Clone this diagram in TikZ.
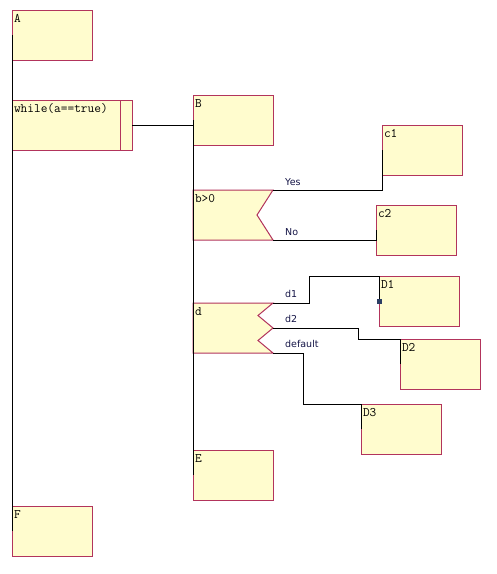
\documentclass[tikz,border=0pt]{standalone}
\usepackage{fontspec}
\newfontfamily\branchfont{DejaVu Sans}
\usetikzlibrary{positioning, calc}
\definecolor{boxfill}{RGB}{255,252,206}
\definecolor{boxline}{RGB}{178,52,92}
\definecolor{handleblue}{RGB}{44,62,100}
\definecolor{branchtext}{RGB}{20,20,70}

\begin{document}
\begin{tikzpicture}[x=1pt, y=-1pt]
        \tikzstyle{box} = [rectangle, draw=boxline, fill=boxfill, line width=1pt, minimum width=80pt, minimum height=50pt, text width=76pt, text height=10pt, text depth=36pt, inner sep=2pt, outer sep=0pt, align=left, anchor=north west, font=\ttfamily\fontsize{13}{14}\selectfont]
        \tikzstyle{cond} = [box, draw=none, fill=none]
        \tikzstyle{notchbox} = [draw=boxline, fill=boxfill, line width=1pt]
        \tikzstyle{link} = [draw=black, line width=1pt]
        \tikzstyle{branch} = [anchor=base west, inner sep=0pt, text=branchtext, font=\branchfont\fontsize{9.5}{10}\selectfont]

        \useasboundingbox (0,0) rectangle (497,574);

        \node[box] (A) at (12,10){A};
        \node[box, minimum width=120pt, text width=116pt] (loop) at (12,100){while(a==true)};
        \draw[boxline, line width=1pt] ($(loop.north east)+(-12,0)$) -- ($(loop.south east)+(-12,0)$);
        \node[box] (F) at (12,506){F};

        \node[box] (B) at (193,95){B};

        \filldraw[notchbox] (193,190) -- ++(80,0) -- ++(-16,25) -- ++(16,25) -- ++(-80,0) -- cycle;
        \node[cond] (b0) at (193,190){b>0};
        \node[box] (c1) at (382,125){c1};
        \node[box] (c2) at (376,205){c2};

        \filldraw[notchbox] (193,303) -- ++(80,0) -- ++(-15,12.5) -- ++(15,12.5) -- ++(-15,12.5) -- ++(15,12.5) -- ++(-80,0) -- cycle;
        \node[cond] (d) at (193,303){d};
        \node[box] (D1) at (379,276){D1};
        \node[box] (D2) at (400,339){D2};
        \node[box] (D3) at (361,404){D3};

        \node[box] (E) at (193,450){E};

        \draw[link] (A.west) -- (F.west);
        \draw[link] (loop.east) -- (loop.east -| B.west);
        \draw[link] (B.west) -- (E.west);

        \draw[link] (b0.north east) -| (c1.west);
        \draw[link] (b0.south east) -| (c2.west);
        \node[branch] (yes) at ($(b0.north east)+(12,-5)$){Yes};
        \node[branch] (no) at ($(b0.south east)+(12,-5)$){No};

        \draw[link] (d.north east) -- ++(36,0) |- (D1.north west) -- (D1.west);
        \draw[link] (d.east) -- ++(85,0) |- (D2.north west) -- (D2.west);
        \draw[link] (d.south east) -- ++(30,0) |- (D3.north west) -- (D3.west);
        \node[branch] (d1) at ($(d.north east)+(12,-6)$){d1};
        \node[branch] (d2) at ($(d.east)+(12,-6)$){d2};
        \node[branch] (dflt) at ($(d.south east)+(12,-6)$){default};

        \node[fill=handleblue, minimum size=5pt, inner sep=0pt] (grip) at (D1.west){};

    \end{tikzpicture}
\end{document}
